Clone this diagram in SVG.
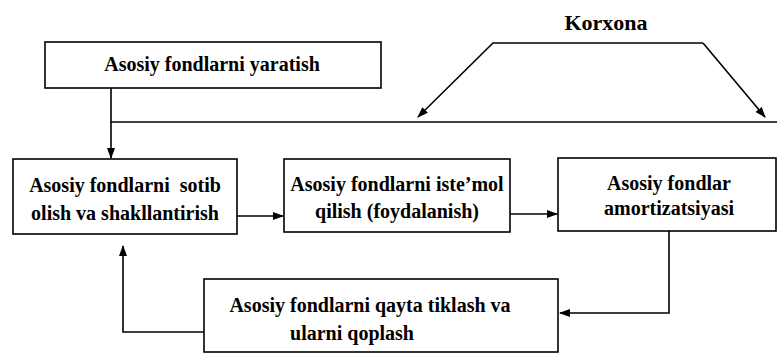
<svg xmlns="http://www.w3.org/2000/svg" width="778" height="353" viewBox="0 0 778 353">
<style>
.box{fill:#fff;stroke:#000;stroke-width:1.6}
.t{font-family:"Liberation Serif","Times New Roman",serif;font-weight:bold;font-size:20px;fill:#000;text-anchor:middle}
.k{font-size:22px}
.c{fill:none;stroke:#000;stroke-width:1.6}
</style>
<defs>
<marker id="ah" markerWidth="11" markerHeight="8" refX="10" refY="4" orient="auto" markerUnits="userSpaceOnUse">
<path d="M0,0 L11,4 L0,8 Z" fill="#000"/>
</marker>
</defs>
<rect width="778" height="353" fill="#fff"/>
<g id="connectors">
<path class="c" d="M111,88 V158" marker-end="url(#ah)"/>
<path class="c" d="M111,122 H777"/>
<path class="c" d="M703,43 H493 L418,117" marker-end="url(#ah)"/>
<path class="c" d="M703,43 L765,117" marker-end="url(#ah)"/>
<path class="c" d="M235,216 H283" marker-end="url(#ah)"/>
<path class="c" d="M506,214 H557" marker-end="url(#ah)"/>
<path class="c" d="M669,231 V313 H560" marker-end="url(#ah)"/>
<path class="c" d="M204,332 H123 V246" marker-end="url(#ah)"/>
</g>
<g id="korxona">
<text class="t k" x="606" y="30">Korxona</text>
</g>
<g id="yaratish">
<rect class="box" x="45" y="42" width="336" height="46"/>
<text class="t" x="212" y="71">Asosiy fondlarni yaratish</text>
</g>
<g id="sotib">
<rect class="box" x="13" y="159" width="224" height="75"/>
<text class="t" x="125" y="192" xml:space="preserve">Asosiy fondlarni  sotib</text>
<text class="t" x="125" y="220">olish va shakllantirish</text>
</g>
<g id="istemol">
<rect class="box" x="284" y="159" width="226" height="73"/>
<text class="t" x="397" y="191">Asosiy fondlarni iste’mol</text>
<text class="t" x="397" y="218">qilish (foydalanish)</text>
</g>
<g id="amortizatsiya">
<rect class="box" x="558" y="158" width="218" height="73"/>
<text class="t" x="669" y="190">Asosiy fondlar</text>
<text class="t" x="669" y="215">amortizatsiyasi</text>
</g>
<g id="tiklash">
<rect class="box" x="204" y="279" width="354" height="73"/>
<text class="t" x="370" y="312">Asosiy fondlarni qayta tiklash va</text>
<text class="t" x="352" y="340">ularni qoplash</text>
</g>
</svg>
